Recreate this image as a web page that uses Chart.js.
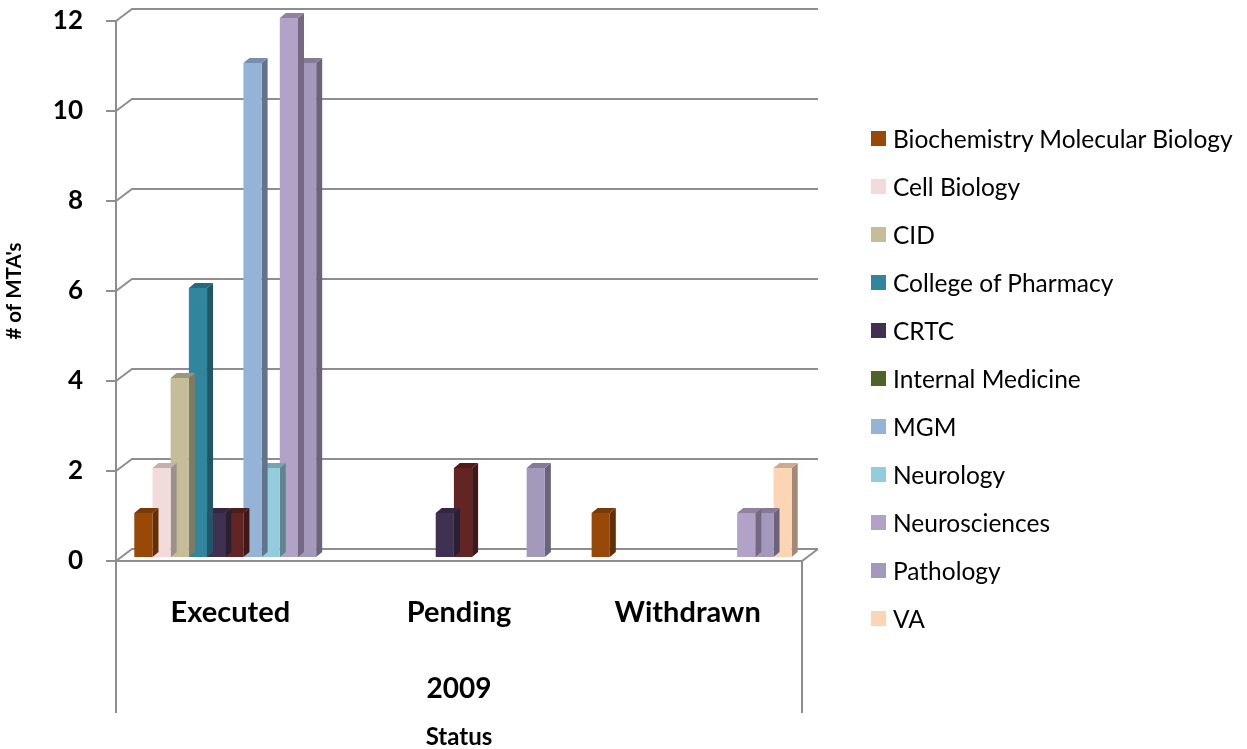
<!DOCTYPE html>
<html>
<head>
<meta charset="utf-8">
<script src="https://cdn.jsdelivr.net/npm/chart.js@4/dist/chart.umd.min.js"></script>
<style>
  html, body { margin: 0; padding: 0; background: #fff; }
  #wrap { position: relative; width: 1247px; height: 749px; }
  #legend { position: absolute; left: 871px; top: 114px; margin: 0; padding: 0; list-style: none;
    font-family: Lato, "Open Sans", sans-serif; font-size: 24.5px; color: #000; }
  #legend li { display: flex; align-items: center; height: 48px; white-space: nowrap; }
  #legend .sw { display: inline-block; width: 15px; height: 15px; margin-right: 7px; }
</style>
</head>
<body>
<div id="wrap">
  <canvas id="mtaChart" width="1247" height="749"></canvas>
  <ul id="legend"></ul>
</div>
<script>
// --- data ---
const statuses = ['Executed', 'Pending', 'Withdrawn'];
const years = ['2009'];
const departments = ['Biochemistry Molecular Biology', 'Cell Biology', 'CID', 'College of Pharmacy',
    'CRTC', 'Internal Medicine', 'MGM', 'Neurology', 'Neurosciences', 'Pathology', 'VA'];
const biochemistry = [1, 0, 1];
const cellBiology = [2, 0, 0];
const cid = [4, 0, 0];
const pharmacy = [6, 0, 0];
const crtc = [1, 1, 0];
const internalMedicine = [1, 2, 0];
const mgm = [11, 0, 0];
const neurology = [2, 0, 0];
const neurosciences = [12, 0, 1];
const pathology = [11, 2, 1];
const va = [0, 0, 2];
const yTicks = [0, 2, 4, 6, 8, 10, 12];

// --- styles ---
const barColors = ['#984807', '#F2DCDB', '#C4BD97', '#31859C', '#403152', '#632523',
    '#95B3D7', '#93CDDD', '#B3A2C7', '#A598BD', '#FCD5B5'];
// the legend swatch for Internal Medicine is green in the original even though its bars are dark red
const legendColors = ['#984807', '#F2DCDB', '#C4BD97', '#31859C', '#403152', '#4F6228',
    '#95B3D7', '#93CDDD', '#B3A2C7', '#A598BD', '#FCD5B5'];
const GRID = '#8e8e8e';
const FONT = 'Lato, "Open Sans", sans-serif';

Chart.defaults.font.family = FONT;
Chart.defaults.color = '#000';

function shade(hex, f) {
    const n = parseInt(hex.slice(1), 16);
    const r = Math.round(((n >> 16) & 255) * f);
    const g = Math.round(((n >> 8) & 255) * f);
    const b = Math.round((n & 255) * f);
    return `rgb(${r},${g},${b})`;
}

// no extra label padding, the layout padding handles it
const noPad = s => { s.paddingTop = 0; s.paddingBottom = 0; s.paddingLeft = 0; s.paddingRight = 0; };

// fake Excel 3D look: back wall, floor, bar sides/tops
const excelLook = {
    id: 'excelLook',
    beforeDatasetsDraw(chart) {
        const { ctx, chartArea: { left, right }, scales: { y, x2 } } = chart;
        ctx.save();
        ctx.strokeStyle = GRID;
        ctx.lineWidth = 2;
        y.ticks.forEach(t => {
            const py = y.getPixelForValue(t.value);
            ctx.beginPath();
            ctx.moveTo(left, py);
            ctx.lineTo(left + 16, py - 12);
            ctx.lineTo(right + 16, py - 12);
            ctx.stroke();
        });
        const base = y.getPixelForValue(0);
        ctx.beginPath();
        ctx.moveTo(left, base);
        ctx.lineTo(right, base);
        ctx.lineTo(right + 16, base - 12);
        ctx.stroke();
        // axis line and the category dividers below the floor
        const end = x2.bottom - 24;
        ctx.beginPath();
        ctx.moveTo(left, y.getPixelForValue(y.max));
        ctx.lineTo(left, end);
        ctx.moveTo(right, base);
        ctx.lineTo(right, end);
        ctx.stroke();
        ctx.restore();

        ctx.save();
        ctx.translate(4, -3);
    },
    beforeDatasetDraw(chart, args) {
        const { ctx } = chart;
        const ds = chart.data.datasets[args.index];
        const col = ds.backgroundColor;
        args.meta.data.forEach((bar, i) => {
            if (!ds.data[i]) return;
            const { x, y, width, base } = bar.getProps(['x', 'y', 'width', 'base'], true);
            const l = x - width / 2, r = x + width / 2;
            ctx.fillStyle = shade(col, 0.65);
            ctx.beginPath();
            ctx.moveTo(r, y);
            ctx.lineTo(r + 6, y - 5);
            ctx.lineTo(r + 6, base - 5);
            ctx.lineTo(r, base);
            ctx.closePath();
            ctx.fill();
            ctx.fillStyle = shade(col, 0.8);
            ctx.beginPath();
            ctx.moveTo(l, y);
            ctx.lineTo(l + 6, y - 5);
            ctx.lineTo(r + 6, y - 5);
            ctx.lineTo(r, y);
            ctx.closePath();
            ctx.fill();
        });
    },
    afterDatasetsDraw(chart) {
        chart.ctx.restore();
    }
};

// legend is too wide for Chart.js' right-hand box limit, so build it as html
const htmlLegend = {
    id: 'htmlLegend',
    afterUpdate(chart) {
        const ul = document.getElementById('legend');
        ul.innerHTML = '';
        Chart.defaults.plugins.legend.labels.generateLabels(chart).forEach((item, i) => {
            const li = document.createElement('li');
            const sw = document.createElement('span');
            sw.className = 'sw';
            sw.style.background = legendColors[i];
            li.appendChild(sw);
            li.appendChild(document.createTextNode(item.text));
            ul.appendChild(li);
        });
    }
};

const series = [biochemistry, cellBiology, cid, pharmacy, crtc, internalMedicine,
    mgm, neurology, neurosciences, pathology, va];

const ctx = document.getElementById('mtaChart').getContext('2d');
const mtaChart = new Chart(ctx, {
    type: 'bar',
    data: {
        labels: statuses,
        datasets: series.map((values, i) => ({
            label: departments[i],
            data: values,
            backgroundColor: barColors[i],
            borderWidth: 0,
            barPercentage: 1,
            categoryPercentage: 0.875,
            clip: false
        }))
    },
    options: {
        responsive: false,
        animation: false,
        events: [],
        layout: { padding: { top: 21, right: 445, bottom: 12, left: 2 } },
        plugins: {
            tooltip: { enabled: false },
            legend: { display: false }
        },
        scales: {
            x: {
                weight: 0,
                grid: { display: false, drawTicks: false },
                border: { display: false },
                ticks: { padding: 34, font: { size: 29, weight: 'bold' } },
                afterFit: s => { noPad(s); s.height = 89; }
            },
            x2: {
                type: 'category',
                labels: years,
                offset: true,
                position: 'bottom',
                weight: 1,
                grid: { display: false, drawTicks: false },
                border: { display: false },
                ticks: { padding: 22, font: { size: 28, weight: 'bold' } },
                title: {
                    display: true, text: 'Status',
                    font: { size: 24, weight: 'bold' },
                    padding: { top: 0, bottom: -15 }
                },
                afterFit: s => { noPad(s); s.height = 87; }
            },
            y: {
                min: yTicks[0],
                max: yTicks[yTicks.length - 1],
                ticks: { stepSize: yTicks[1] - yTicks[0], padding: 23, font: { size: 26, weight: 'bold' } },
                grid: { display: true, drawOnChartArea: false, drawTicks: true, tickLength: 10, color: GRID, lineWidth: 2 },
                border: { display: false },
                title: { display: true, text: "# of MTA's", font: { size: 20.5, weight: 'bold' }, padding: 0 },
                afterFit: s => { noPad(s); s.width = 114; }
            }
        }
    },
    plugins: [excelLook, htmlLegend]
});
</script>
</body>
</html>
